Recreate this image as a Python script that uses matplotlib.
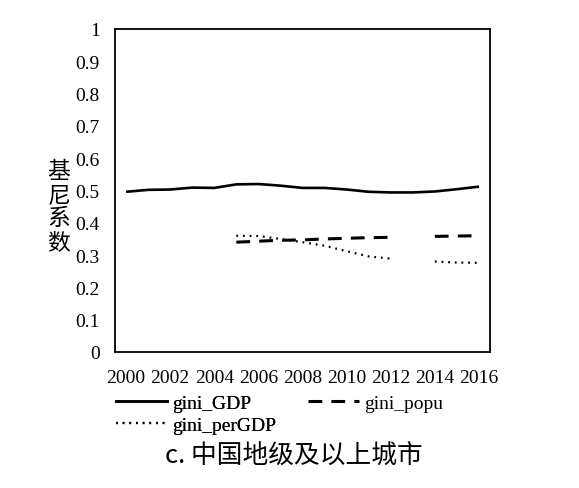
import matplotlib
matplotlib.use("Agg")
import numpy as np
import matplotlib.pyplot as plt
from matplotlib.lines import Line2D

years = list(range(2000, 2017))
gini_GDP = [0.496, 0.502, 0.503, 0.509, 0.508, 0.519, 0.520, 0.515, 0.508, 0.508,
            0.503, 0.496, 0.494, 0.494, 0.497, 0.504, 0.512]
# nan = no data for that year
gini_popu = [np.nan] * 5 + [0.340, 0.343, 0.346, 0.347, 0.350, 0.352, 0.354, 0.355,
                            np.nan, 0.358, 0.359, 0.360]
gini_perGDP = [np.nan] * 5 + [0.360, 0.359, 0.350, 0.340, 0.329, 0.312, 0.296, 0.289,
                              np.nan, 0.280, 0.277, 0.276]
tick_years = years[::2]

plt.rcParams["font.family"] = ["Liberation Serif", "DejaVu Serif"]
cjk = ["Noto Sans CJK SC", "DejaVu Sans"]

fig = plt.figure(figsize=(5.79, 4.89), dpi=100)
ax = fig.add_axes([115 / 579, 1 - 353 / 489, 375 / 579, 323 / 489])

x = np.arange(len(years))
ax.plot(x, gini_GDP, color="black", lw=1.9, solid_capstyle="butt")
ax.plot(x, gini_popu, color="black", lw=2.2, dashes=(4.5, 3))
ax.plot(x, gini_perGDP, color="black", lw=1.6, dashes=(0.8, 2.2))

ax.set_xlim(-0.5, len(years) - 0.5)
ax.set_ylim(0, 1)
ax.set_yticks(np.arange(0, 1.01, 0.1))
ax.set_yticklabels(["0"] + ["%.1f" % v for v in np.arange(0.1, 0.95, 0.1)] + ["1"])
ax.set_xticks(x[::2])
ax.set_xticklabels([str(y) for y in tick_years])
ax.tick_params(length=0, labelsize=14, colors="black")
ax.tick_params(axis="x", pad=12)
ax.tick_params(axis="y", pad=11)
for s in ax.spines.values():
    s.set_linewidth(1.3)

fig.text(59 / 579, 1 - 207 / 489, "基\n尼\n系\n数", family=cjk, fontsize=16.5,
         ha="center", va="center", linespacing=1.05)

h_gdp = Line2D([], [], color="black", lw=1.9)
h_popu = Line2D([], [], color="black", lw=2.2, dashes=(4.5, 3))
h_per = Line2D([], [], color="black", lw=1.6, dashes=(0.8, 2.2))
leg_kw = dict(loc="upper left", frameon=False, fontsize=14, handlelength=2.6,
              handletextpad=0.3, labelspacing=0.25, borderpad=0, borderaxespad=0)
leg1 = fig.legend([h_gdp, h_per], ["gini_GDP", "gini_perGDP"],
                  bbox_to_anchor=(116 / 579, 1 - 395 / 489), **leg_kw)
fig.add_artist(leg1)
fig.legend([h_popu], ["gini_popu"],
           bbox_to_anchor=(308 / 579, 1 - 395 / 489), **leg_kw)

fig.text(294 / 579, 1 - 457 / 489, "c. 中国地级及以上城市", family=cjk, fontsize=18.5,
         ha="center", va="center")

fig.savefig("out.png", dpi=100)
